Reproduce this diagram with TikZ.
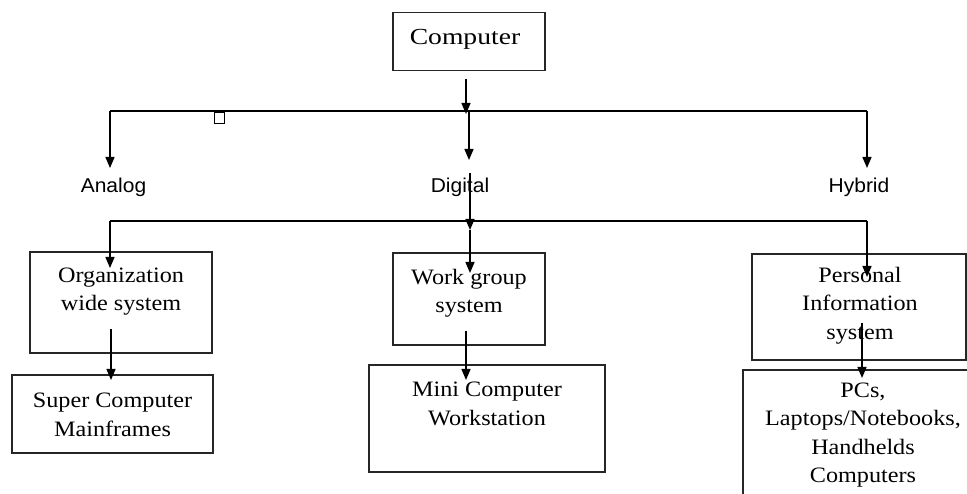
\documentclass[tikz,border=0pt]{standalone}
\usepackage{fontspec}
\newfontfamily\serifx{Liberation Serif}[FakeStretch=1.1]
\newfontfamily\serifw{Liberation Serif}[FakeStretch=1.2]
\newfontfamily\sansx{Liberation Sans}[FakeStretch=1.05]
\usetikzlibrary{arrows.meta}
\begin{document}
\begin{tikzpicture}[x=1pt,y=-1pt,
  boxx/.style={draw=black!85, line width=1.6pt, inner sep=0pt},
  txt/.style={inner sep=0pt, align=center, font=\serifx\fontsize{22}{28.5}\selectfont},
  lab/.style={inner sep=0pt, font=\sansx\fontsize{20}{22}\selectfont},
  arr/.style={line width=1.4pt, -{Triangle[length=11pt,width=9pt]}},
  bus/.style={line width=1.4pt}]
\useasboundingbox (0,0) rectangle (967,494);
\clip (0,0) rectangle (967,494);

% top box
\node[boxx, minimum width=152pt, minimum height=58pt] (comp) at (469,41.5) {};
\node[inner sep=0pt, font=\serifw\fontsize{23}{28}\selectfont] (compt) at (465,39.5) {Computer};

% stray small square
\node[draw, line width=0.9pt, minimum width=10pt, minimum height=11pt, inner sep=0pt] (sq) at (219,118) {};

% first bus
\coordinate (bL) at (110,111);
\coordinate (bM) at (469,111);
\coordinate (bR) at (867,111);
\draw[bus] (bL) -- (bR);

% category labels
\node[lab] (analog) at (113.5,187) {Analog};
\node[lab] (digital) at (460,187) {Digital};
\node[lab] (hybrid) at (859,187) {Hybrid};

\coordinate (cS) at (466,79);
\coordinate (cT) at (466,114);
\draw[arr] (cS) -- (cT);
\draw[arr] (bL) -- (bL |- 0,168);
\draw[arr] (bM) -- (bM |- 0,160);
\draw[arr] (bR) -- (bR |- 0,168);

% second bus
\coordinate (b2L) at (110,221);
\coordinate (b2M) at (470,221);
\coordinate (b2R) at (867,221);
\draw[bus] (b2L) -- (b2R);
\coordinate (dS) at (470,173);
\coordinate (dT) at (470,230);
\draw[arr] (dS) -- (dT);

% system boxes
\node[boxx, minimum width=182pt, minimum height=101pt] (org) at (121,302.5) {};
\node[txt] (orgt) at (121,291.5) {Organization\\wide system};
\node[boxx, minimum width=152pt, minimum height=92pt] (work) at (469,299) {};
\node[txt] (workt) at (469,293) {Work group\\system};
\node[boxx, minimum width=214pt, minimum height=106pt] (pers) at (859,307) {};
\node[txt] (perst) at (860,305.5) {Personal\\Information\\system};

\draw[arr] (b2L) -- (b2L |- 0,268);
\draw[arr] (dT) -- (dT |- 0,273);
\draw[arr] (b2R) -- (b2R |- 0,277);

% machine boxes
\node[boxx, minimum width=201pt, minimum height=78pt] (super) at (112.5,414) {};
\node[txt] (supert) at (112.5,415) {Super Computer\\Mainframes};
\node[boxx, minimum width=236pt, minimum height=107pt] (mini) at (487,418.5) {};
\node[txt] (minit) at (487,404) {Mini Computer\\Workstation};
\node[boxx, minimum width=242pt, minimum height=140pt] (pcs) at (864,440) {};
\node[txt] (pcst) at (863,435) {PCs,\\Laptops/Notebooks,\\Handhelds\\Computers};

\coordinate (oS) at (111,329);
\coordinate (wS) at (466,331);
\coordinate (pS) at (862,323);
\draw[arr] (oS) -- (oS |- 0,380);
\draw[arr] (wS) -- (wS |- 0,380);
\draw[arr] (pS) -- (pS |- 0,378);
\end{tikzpicture}
\end{document}
